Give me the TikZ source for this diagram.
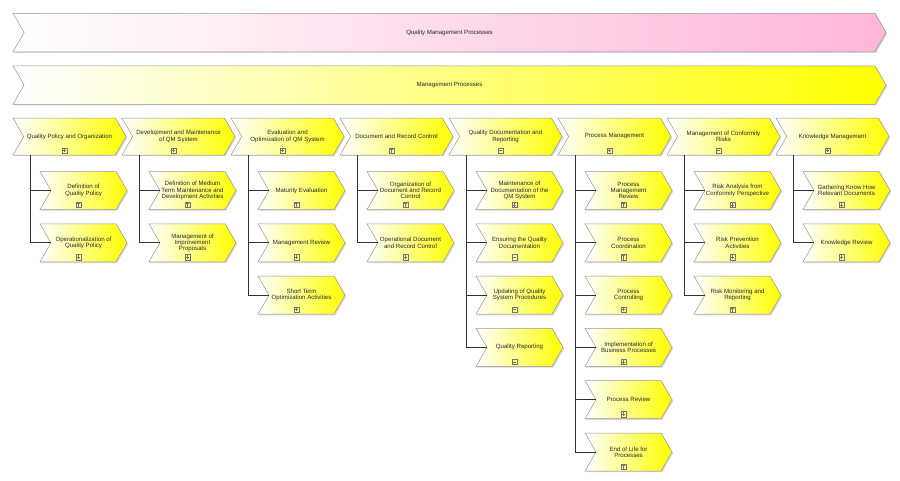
\documentclass[tikz,border=0pt]{standalone}
\usepackage{fontspec}
\setmainfont{Liberation Sans}
\usetikzlibrary{positioning,shapes.symbols,shadows}

\definecolor{qmpink}{RGB}{255,182,216}
\definecolor{qmline}{RGB}{50,50,50}
\definecolor{qmborder}{RGB}{150,150,150}

\tikzset{
  chevron/.style={shape=signal, signal from=west, signal to=east, signal pointer angle=120,
    draw=qmborder, line width=0.5pt, inner sep=0pt, align=center, text=black!85,
    font=\fontsize{6.1}{6.3}\selectfont,
    drop shadow={shadow xshift=1.2pt, shadow yshift=-1.2pt, fill=black!30}},
  banner/.style={chevron, minimum width=873pt, minimum height=38.5pt, left color=white},
  group/.style={chevron, minimum width=113pt, minimum height=37pt, left color=white, right color=yellow},
  task/.style={chevron, minimum width=87pt, minimum height=38pt, left color=white, right color=yellow},
  iconbox/.style={draw=black!55, line width=0.4pt},
  plusicon/.style={path picture={
    \coordinate (ic) at ([xshift=-5pt,yshift=4.6pt]path picture bounding box.south);
    \draw[iconbox] ([xshift=-2.6pt,yshift=-2.6pt]ic) rectangle ([xshift=2.6pt,yshift=2.6pt]ic);
    \draw[iconbox] ([xshift=-1.8pt]ic) -- ([xshift=1.8pt]ic) ([yshift=-1.8pt]ic) -- ([yshift=1.8pt]ic);}},
  minusicon/.style={path picture={
    \coordinate (ic) at ([xshift=-5pt,yshift=4.6pt]path picture bounding box.south);
    \draw[iconbox] ([xshift=-2.6pt,yshift=-2.6pt]ic) rectangle ([xshift=2.6pt,yshift=2.6pt]ic);
    \draw[iconbox] ([xshift=-1.8pt]ic) -- ([xshift=1.8pt]ic);}},
  teeicon/.style={path picture={
    \coordinate (ic) at ([xshift=-5pt,yshift=4.6pt]path picture bounding box.south);
    \draw[iconbox] ([xshift=-2.6pt,yshift=-2.6pt]ic) rectangle ([xshift=2.6pt,yshift=2.6pt]ic);
    \draw[iconbox] ([xshift=-1.8pt,yshift=1.6pt]ic) -- ([xshift=1.8pt,yshift=1.6pt]ic) ([yshift=1.6pt]ic) -- ([yshift=-2.6pt]ic);}},
  branch/.style={draw=qmline, line width=0.7pt},
}

\begin{document}
\begin{tikzpicture}[x=1pt, y=-1pt]
  \useasboundingbox[fill=white] (0,0) rectangle (900,480);

  % top level
  \node[banner, right color=qmpink] (qmp) at (449.5,32.5) {Quality Management Processes};
  \node[banner, right color=yellow] (mgp) at (449.5,85) {Management Processes};

  % process groups
  \node[group, plusicon] (h1) at (69.5,136.5) {Quality Policy and Organization};
  \node[group, plusicon] (h2) at (178.5,136.5) {Development and Maintenance\\of QM System};
  \node[group, plusicon] (h3) at (287.5,136.5) {Evaluation and\\Optimization of QM System};
  \node[group, teeicon] (h4) at (396.5,136.5) {Document and Record Control};
  \node[group, minusicon] (h5) at (505.5,136.5) {Quality Documentation and\\Reporting};
  \node[group, plusicon] (h6) at (614.5,136.5) {Process Management};
  \node[group, minusicon] (h7) at (723.5,136.5) {Management of Conformity\\Risks};
  \node[group, plusicon] (h8) at (832.5,136.5) {Knowledge Management};

  % Quality Policy and Organization
  \node[task, teeicon, below=16pt of h1, xshift=14pt] (c11) {Definition of\\Quality Policy};
  \node[task, plusicon, below=13.8pt of c11] (c12) {Operationalization of\\Quality Policy};

  % Development and Maintenance of QM System
  \node[task, teeicon, below=16pt of h2, xshift=14pt] (c21) {Definition of Medium\\Term Maintenance and\\Development Activities};
  \node[task, plusicon, below=13.8pt of c21] (c22) {Management of\\Improvement\\Proposals};

  % Evaluation and Optimization of QM System
  \node[task, teeicon, below=16pt of h3, xshift=14pt] (c31) {Maturity Evaluation};
  \node[task, plusicon, below=13.8pt of c31] (c32) {Management Review};
  \node[task, plusicon, below=13.8pt of c32] (c33) {Short Term\\Optimization Activities};

  % Document and Record Control
  \node[task, teeicon, below=16pt of h4, xshift=14pt] (c41) {Organization of\\Document and Record\\Control};
  \node[task, plusicon, below=13.8pt of c41] (c42) {Operational Document\\and Record Control};

  % Quality Documentation and Reporting
  \node[task, plusicon, below=16pt of h5, xshift=14pt] (c51) {Maintenance of\\Documentation of the\\QM System};
  \node[task, minusicon, below=13.8pt of c51] (c52) {Ensuring the Quality\\Documentation};
  \node[task, minusicon, below=13.8pt of c52] (c53) {Updating of Quality\\System Procedures};
  \node[task, minusicon, below=13.8pt of c53] (c54) {Quality Reporting};

  % Process Management
  \node[task, teeicon, below=16pt of h6, xshift=14pt] (c61) {Process\\Management\\Review};
  \node[task, teeicon, below=13.8pt of c61] (c62) {Process\\Coordination};
  \node[task, plusicon, below=13.8pt of c62] (c63) {Process\\Controlling};
  \node[task, plusicon, below=13.8pt of c63] (c64) {Implementation of\\Business Processes};
  \node[task, plusicon, below=13.8pt of c64] (c65) {Process Review};
  \node[task, teeicon, below=13.8pt of c65] (c66) {End of Life for\\Processes};

  % Management of Conformity Risks
  \node[task, plusicon, below=16pt of h7, xshift=14pt] (c71) {Risk Analysis from\\Conformity Perspective};
  \node[task, plusicon, below=13.8pt of c71] (c72) {Risk Prevention\\Activities};
  \node[task, teeicon, below=13.8pt of c72] (c73) {Risk Monitoring and\\Reporting};

  % Knowledge Management
  \node[task, plusicon, below=16pt of h8, xshift=14pt] (c81) {Gathering Know How\\Relevant Documents};
  \node[task, plusicon, below=13.8pt of c81] (c82) {Knowledge Review};

  % branches
  \draw[branch] ([xshift=-39.5pt]h1.south) |- (c11.west) ([xshift=-39.5pt]h1.south) |- (c12.west);
  \draw[branch] ([xshift=-39.5pt]h2.south) |- (c21.west) ([xshift=-39.5pt]h2.south) |- (c22.west);
  \draw[branch] ([xshift=-39.5pt]h3.south) |- (c31.west) ([xshift=-39.5pt]h3.south) |- (c32.west)
    ([xshift=-39.5pt]h3.south) |- (c33.west);
  \draw[branch] ([xshift=-39.5pt]h4.south) |- (c41.west) ([xshift=-39.5pt]h4.south) |- (c42.west);
  \draw[branch] ([xshift=-39.5pt]h5.south) |- (c51.west) ([xshift=-39.5pt]h5.south) |- (c52.west)
    ([xshift=-39.5pt]h5.south) |- (c53.west) ([xshift=-39.5pt]h5.south) |- (c54.west);
  \draw[branch] ([xshift=-39.5pt]h6.south) |- (c61.west) ([xshift=-39.5pt]h6.south) |- (c62.west)
    ([xshift=-39.5pt]h6.south) |- (c63.west) ([xshift=-39.5pt]h6.south) |- (c64.west)
    ([xshift=-39.5pt]h6.south) |- (c65.west) ([xshift=-39.5pt]h6.south) |- (c66.west);
  \draw[branch] ([xshift=-39.5pt]h7.south) |- (c71.west) ([xshift=-39.5pt]h7.south) |- (c72.west)
    ([xshift=-39.5pt]h7.south) |- (c73.west);
  \draw[branch] ([xshift=-39.5pt]h8.south) |- (c81.west) ([xshift=-39.5pt]h8.south) |- (c82.west);
\end{tikzpicture}
\end{document}
